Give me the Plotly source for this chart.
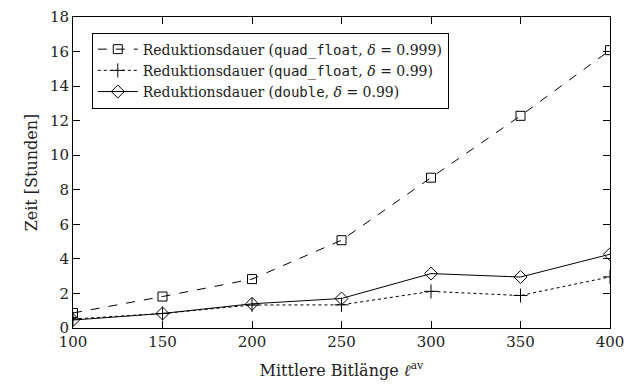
import plotly.graph_objects as go

# Mittlere Bitlänge (x) und Reduktionsdauer in Stunden
bitlaenge = [100, 150, 200, 250, 300, 350, 400]
qf_0999 = [0.87, 1.82, 2.83, 5.08, 8.7, 12.28, 16.08]
qf_099 = [0.52, 0.84, 1.33, 1.34, 2.12, 1.88, 2.96]
dbl_099 = [0.46, 0.84, 1.4, 1.71, 3.15, 2.95, 4.27]

x_ticks = [100, 150, 200, 250, 300, 350, 400]
y_ticks = [0, 2, 4, 6, 8, 10, 12, 14, 16, 18]

serif = "DejaVu Serif"
mono = "DejaVu Sans Mono"


def label(kind, delta):
    return (f"Reduktionsdauer (<span style=\"font-family:'{mono}'\">{kind}</span>, "
            f"<i>δ</i> = {delta})")


fig = go.Figure()
fig.add_trace(go.Scatter(
    x=bitlaenge, y=qf_0999, mode="lines+markers",
    name=label("quad_float", "0.999"),
    line=dict(color="black", width=1, dash="dash"),
    marker=dict(symbol="square-open", size=9, color="black", line=dict(width=1)),
))
fig.add_trace(go.Scatter(
    x=bitlaenge, y=qf_099, mode="lines+markers",
    name=label("quad_float", "0.99"),
    line=dict(color="black", width=1, dash="dot"),
    marker=dict(symbol="cross-thin-open", size=10, color="black", line=dict(width=1, color="black")),
))
fig.add_trace(go.Scatter(
    x=bitlaenge, y=dbl_099, mode="lines+markers",
    name=label("double", "0.99"),
    line=dict(color="black", width=1),
    marker=dict(symbol="diamond-open", size=10, color="black", line=dict(width=1)),
))

axis_common = dict(
    showline=True, linecolor="black", linewidth=1, mirror="ticks",
    ticks="inside", ticklen=7, tickcolor="black", tickwidth=1,
    showgrid=False, zeroline=False,
    tickfont=dict(family=serif, size=15, color="#222"),
)

fig.update_xaxes(
    range=[100, 400], tickvals=x_ticks, ticklabeloverflow="allow",
    title=dict(text="Mittlere Bitlänge <i>ℓ</i><sup>av</sup>",
               font=dict(family=serif, size=16, color="#222"), standoff=14),
    **axis_common,
)
fig.update_yaxes(
    range=[0, 18], tickvals=y_ticks, ticklabeloverflow="allow",
    title=dict(text="Zeit [Stunden]", font=dict(family=serif, size=16, color="#222"), standoff=8),
    **axis_common,
)

fig.update_layout(
    width=626, height=387,
    margin=dict(l=73, r=16, t=17, b=59, autoexpand=False),
    plot_bgcolor="white", paper_bgcolor="white",
    showlegend=True,
    legend=dict(
        x=0.035, y=0.95, xanchor="left", yanchor="top",
        bgcolor="white", bordercolor="black", borderwidth=1,
        font=dict(family=serif, size=14, color="#222"),
        tracegroupgap=0, itemwidth=40,
    ),
)

fig.write_html("out.html")
